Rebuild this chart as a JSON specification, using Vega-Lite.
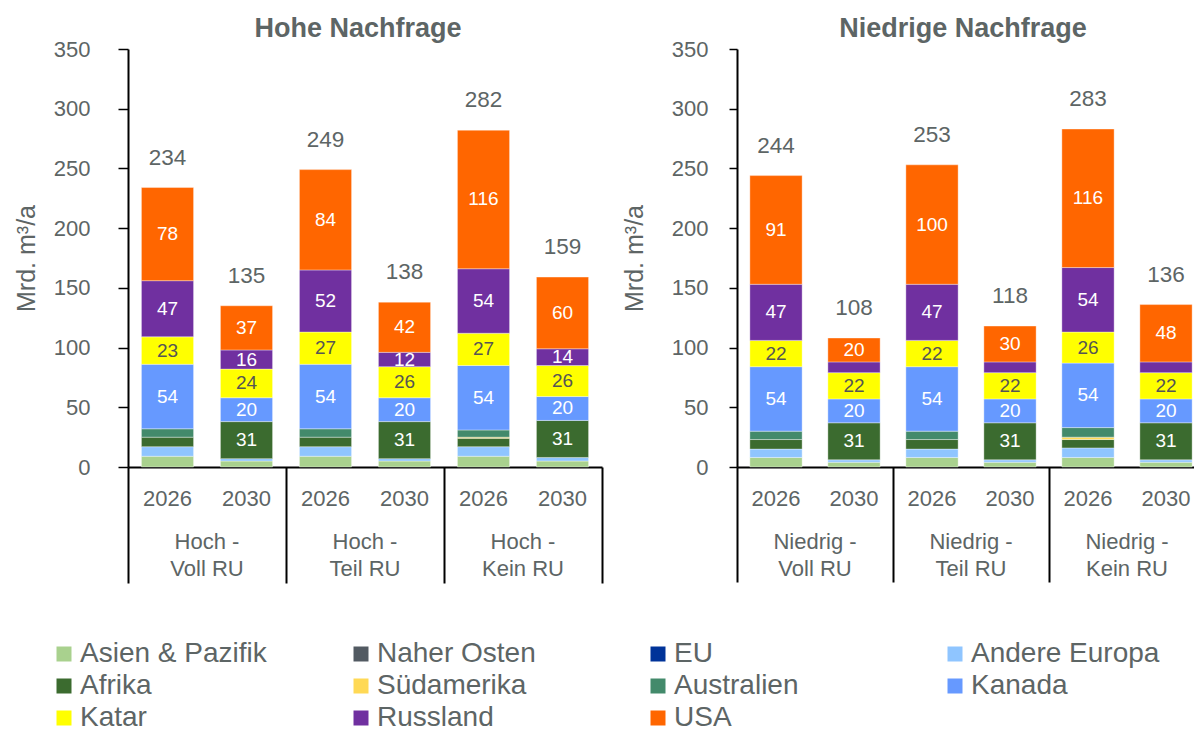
{
  "$schema": "https://vega.github.io/schema/vega-lite/v6.json",
  "padding": {"left": 14, "top": 15, "right": -12, "bottom": 0},
  "config": {
    "font": "Liberation Sans",
    "view": {"stroke": null},
    "axis": {"grid": false, "labelColor": "#5d6565", "titleColor": "#5d6565", "labelFont": "Liberation Sans", "titleFont": "Liberation Sans"},
    "title": {"font": "Liberation Sans", "fontSize": 27, "fontWeight": "bold", "color": "#5d6565", "anchor": "middle", "frame": "group"}
  },
  "datasets": {
    "seg": [
      {"panel": "H", "k": "Hoch -|Voll RU|2026", "region": "Asien & Pazifik", "v": 9},
      {"panel": "H", "k": "Hoch -|Voll RU|2026", "region": "Andere Europa", "v": 8},
      {"panel": "H", "k": "Hoch -|Voll RU|2026", "region": "Afrika", "v": 8},
      {"panel": "H", "k": "Hoch -|Voll RU|2026", "region": "Australien", "v": 7},
      {"panel": "H", "k": "Hoch -|Voll RU|2026", "region": "Kanada", "v": 54},
      {"panel": "H", "k": "Hoch -|Voll RU|2026", "region": "Katar", "v": 23},
      {"panel": "H", "k": "Hoch -|Voll RU|2026", "region": "Russland", "v": 47},
      {"panel": "H", "k": "Hoch -|Voll RU|2026", "region": "USA", "v": 78},
      {"panel": "H", "k": "Hoch -|Voll RU|2030", "region": "Asien & Pazifik", "v": 5},
      {"panel": "H", "k": "Hoch -|Voll RU|2030", "region": "Andere Europa", "v": 2},
      {"panel": "H", "k": "Hoch -|Voll RU|2030", "region": "Afrika", "v": 31},
      {"panel": "H", "k": "Hoch -|Voll RU|2030", "region": "Kanada", "v": 20},
      {"panel": "H", "k": "Hoch -|Voll RU|2030", "region": "Katar", "v": 24},
      {"panel": "H", "k": "Hoch -|Voll RU|2030", "region": "Russland", "v": 16},
      {"panel": "H", "k": "Hoch -|Voll RU|2030", "region": "USA", "v": 37},
      {"panel": "H", "k": "Hoch -|Teil RU|2026", "region": "Asien & Pazifik", "v": 9},
      {"panel": "H", "k": "Hoch -|Teil RU|2026", "region": "Andere Europa", "v": 8},
      {"panel": "H", "k": "Hoch -|Teil RU|2026", "region": "Afrika", "v": 8},
      {"panel": "H", "k": "Hoch -|Teil RU|2026", "region": "Australien", "v": 7},
      {"panel": "H", "k": "Hoch -|Teil RU|2026", "region": "Kanada", "v": 54},
      {"panel": "H", "k": "Hoch -|Teil RU|2026", "region": "Katar", "v": 27},
      {"panel": "H", "k": "Hoch -|Teil RU|2026", "region": "Russland", "v": 52},
      {"panel": "H", "k": "Hoch -|Teil RU|2026", "region": "USA", "v": 84},
      {"panel": "H", "k": "Hoch -|Teil RU|2030", "region": "Asien & Pazifik", "v": 5},
      {"panel": "H", "k": "Hoch -|Teil RU|2030", "region": "Andere Europa", "v": 2},
      {"panel": "H", "k": "Hoch -|Teil RU|2030", "region": "Afrika", "v": 31},
      {"panel": "H", "k": "Hoch -|Teil RU|2030", "region": "Kanada", "v": 20},
      {"panel": "H", "k": "Hoch -|Teil RU|2030", "region": "Katar", "v": 26},
      {"panel": "H", "k": "Hoch -|Teil RU|2030", "region": "Russland", "v": 12},
      {"panel": "H", "k": "Hoch -|Teil RU|2030", "region": "USA", "v": 42},
      {"panel": "H", "k": "Hoch -|Kein RU|2026", "region": "Asien & Pazifik", "v": 9},
      {"panel": "H", "k": "Hoch -|Kein RU|2026", "region": "Andere Europa", "v": 8},
      {"panel": "H", "k": "Hoch -|Kein RU|2026", "region": "Afrika", "v": 7},
      {"panel": "H", "k": "Hoch -|Kein RU|2026", "region": "Südamerika", "v": 1},
      {"panel": "H", "k": "Hoch -|Kein RU|2026", "region": "Australien", "v": 6},
      {"panel": "H", "k": "Hoch -|Kein RU|2026", "region": "Kanada", "v": 54},
      {"panel": "H", "k": "Hoch -|Kein RU|2026", "region": "Katar", "v": 27},
      {"panel": "H", "k": "Hoch -|Kein RU|2026", "region": "Russland", "v": 54},
      {"panel": "H", "k": "Hoch -|Kein RU|2026", "region": "USA", "v": 116},
      {"panel": "H", "k": "Hoch -|Kein RU|2030", "region": "Asien & Pazifik", "v": 5},
      {"panel": "H", "k": "Hoch -|Kein RU|2030", "region": "Andere Europa", "v": 3},
      {"panel": "H", "k": "Hoch -|Kein RU|2030", "region": "Afrika", "v": 31},
      {"panel": "H", "k": "Hoch -|Kein RU|2030", "region": "Kanada", "v": 20},
      {"panel": "H", "k": "Hoch -|Kein RU|2030", "region": "Katar", "v": 26},
      {"panel": "H", "k": "Hoch -|Kein RU|2030", "region": "Russland", "v": 14},
      {"panel": "H", "k": "Hoch -|Kein RU|2030", "region": "USA", "v": 60},
      {"panel": "N", "k": "Niedrig -|Voll RU|2026", "region": "Asien & Pazifik", "v": 8},
      {"panel": "N", "k": "Niedrig -|Voll RU|2026", "region": "Andere Europa", "v": 7},
      {"panel": "N", "k": "Niedrig -|Voll RU|2026", "region": "Afrika", "v": 8},
      {"panel": "N", "k": "Niedrig -|Voll RU|2026", "region": "Australien", "v": 7},
      {"panel": "N", "k": "Niedrig -|Voll RU|2026", "region": "Kanada", "v": 54},
      {"panel": "N", "k": "Niedrig -|Voll RU|2026", "region": "Katar", "v": 22},
      {"panel": "N", "k": "Niedrig -|Voll RU|2026", "region": "Russland", "v": 47},
      {"panel": "N", "k": "Niedrig -|Voll RU|2026", "region": "USA", "v": 91},
      {"panel": "N", "k": "Niedrig -|Voll RU|2030", "region": "Asien & Pazifik", "v": 4},
      {"panel": "N", "k": "Niedrig -|Voll RU|2030", "region": "Andere Europa", "v": 2},
      {"panel": "N", "k": "Niedrig -|Voll RU|2030", "region": "Afrika", "v": 31},
      {"panel": "N", "k": "Niedrig -|Voll RU|2030", "region": "Kanada", "v": 20},
      {"panel": "N", "k": "Niedrig -|Voll RU|2030", "region": "Katar", "v": 22},
      {"panel": "N", "k": "Niedrig -|Voll RU|2030", "region": "Russland", "v": 9},
      {"panel": "N", "k": "Niedrig -|Voll RU|2030", "region": "USA", "v": 20},
      {"panel": "N", "k": "Niedrig -|Teil RU|2026", "region": "Asien & Pazifik", "v": 8},
      {"panel": "N", "k": "Niedrig -|Teil RU|2026", "region": "Andere Europa", "v": 7},
      {"panel": "N", "k": "Niedrig -|Teil RU|2026", "region": "Afrika", "v": 8},
      {"panel": "N", "k": "Niedrig -|Teil RU|2026", "region": "Australien", "v": 7},
      {"panel": "N", "k": "Niedrig -|Teil RU|2026", "region": "Kanada", "v": 54},
      {"panel": "N", "k": "Niedrig -|Teil RU|2026", "region": "Katar", "v": 22},
      {"panel": "N", "k": "Niedrig -|Teil RU|2026", "region": "Russland", "v": 47},
      {"panel": "N", "k": "Niedrig -|Teil RU|2026", "region": "USA", "v": 100},
      {"panel": "N", "k": "Niedrig -|Teil RU|2030", "region": "Asien & Pazifik", "v": 4},
      {"panel": "N", "k": "Niedrig -|Teil RU|2030", "region": "Andere Europa", "v": 2},
      {"panel": "N", "k": "Niedrig -|Teil RU|2030", "region": "Afrika", "v": 31},
      {"panel": "N", "k": "Niedrig -|Teil RU|2030", "region": "Kanada", "v": 20},
      {"panel": "N", "k": "Niedrig -|Teil RU|2030", "region": "Katar", "v": 22},
      {"panel": "N", "k": "Niedrig -|Teil RU|2030", "region": "Russland", "v": 9},
      {"panel": "N", "k": "Niedrig -|Teil RU|2030", "region": "USA", "v": 30},
      {"panel": "N", "k": "Niedrig -|Kein RU|2026", "region": "Asien & Pazifik", "v": 8},
      {"panel": "N", "k": "Niedrig -|Kein RU|2026", "region": "Andere Europa", "v": 8},
      {"panel": "N", "k": "Niedrig -|Kein RU|2026", "region": "Afrika", "v": 7},
      {"panel": "N", "k": "Niedrig -|Kein RU|2026", "region": "Südamerika", "v": 2},
      {"panel": "N", "k": "Niedrig -|Kein RU|2026", "region": "Australien", "v": 8},
      {"panel": "N", "k": "Niedrig -|Kein RU|2026", "region": "Kanada", "v": 54},
      {"panel": "N", "k": "Niedrig -|Kein RU|2026", "region": "Katar", "v": 26},
      {"panel": "N", "k": "Niedrig -|Kein RU|2026", "region": "Russland", "v": 54},
      {"panel": "N", "k": "Niedrig -|Kein RU|2026", "region": "USA", "v": 116},
      {"panel": "N", "k": "Niedrig -|Kein RU|2030", "region": "Asien & Pazifik", "v": 4},
      {"panel": "N", "k": "Niedrig -|Kein RU|2030", "region": "Andere Europa", "v": 2},
      {"panel": "N", "k": "Niedrig -|Kein RU|2030", "region": "Afrika", "v": 31},
      {"panel": "N", "k": "Niedrig -|Kein RU|2030", "region": "Kanada", "v": 20},
      {"panel": "N", "k": "Niedrig -|Kein RU|2030", "region": "Katar", "v": 22},
      {"panel": "N", "k": "Niedrig -|Kein RU|2030", "region": "Russland", "v": 9},
      {"panel": "N", "k": "Niedrig -|Kein RU|2030", "region": "USA", "v": 48}
    ],
    "tot": [
      {"panel": "H", "k": "Hoch -|Voll RU|2026", "total": 234},
      {"panel": "H", "k": "Hoch -|Voll RU|2030", "total": 135},
      {"panel": "H", "k": "Hoch -|Teil RU|2026", "total": 249},
      {"panel": "H", "k": "Hoch -|Teil RU|2030", "total": 138},
      {"panel": "H", "k": "Hoch -|Kein RU|2026", "total": 282},
      {"panel": "H", "k": "Hoch -|Kein RU|2030", "total": 159},
      {"panel": "N", "k": "Niedrig -|Voll RU|2026", "total": 244},
      {"panel": "N", "k": "Niedrig -|Voll RU|2030", "total": 108},
      {"panel": "N", "k": "Niedrig -|Teil RU|2026", "total": 253},
      {"panel": "N", "k": "Niedrig -|Teil RU|2030", "total": 118},
      {"panel": "N", "k": "Niedrig -|Kein RU|2026", "total": 283},
      {"panel": "N", "k": "Niedrig -|Kein RU|2030", "total": 136}
    ]
  },
  "spacing": 19,
  "hconcat": [
    {
      "title": {"text": "Hohe Nachfrage", "offset": -5, "dx": -7},
      "width": 474,
      "height": 418,
      "resolve": {"axis": {"x": "independent", "y": "independent"}},
      "layer": [
        {
          "data": {"name": "seg"},
          "transform": [
            {"filter": "datum.panel === 'H'"},
            {"calculate": "indexof(['Asien & Pazifik','Naher Osten','EU','Andere Europa','Afrika','Südamerika','Australien','Kanada','Katar','Russland','USA'], datum.region)", "as": "o"},
            {"stack": "v", "groupby": ["k"], "sort": [{"field": "o", "order": "ascending"}], "as": ["y0", "y1"]}
          ],
          "mark": {"type": "bar", "width": {"band": 0.66}, "stroke": "white", "strokeWidth": 0.6, "strokeOpacity": 0.6},
          "encoding": {
            "x": {"field": "k", "type": "nominal", "scale": {"domain": ["Hoch -|Voll RU|2026", "Hoch -|Voll RU|2030", "Hoch -|Teil RU|2026", "Hoch -|Teil RU|2030", "Hoch -|Kein RU|2026", "Hoch -|Kein RU|2030"], "paddingInner": 0, "paddingOuter": 0},
                  "axis": {"orient": "bottom", "title": null, "labelExpr": "slice(datum.value, -4)", "labelAngle": 0, "ticks": false, "domain": true, "domainColor": "black", "domainWidth": 2, "labelPadding": 21, "labelFontSize": 22}},
            "y": {"field": "y0", "type": "quantitative", "scale": {"domain": [0, 350], "nice": false},
                  "axis": {"orient": "left", "title": "Mrd. m³/a", "values": [0, 50, 100, 150, 200, 250, 300, 350], "domainColor": "black", "domainWidth": 2, "tickColor": "black", "tickWidth": 1.5, "tickSize": 10, "labelPadding": 28, "labelFontSize": 22, "titleFontSize": 25, "titleFontWeight": "normal", "titlePadding": 14}},
            "y2": {"field": "y1"},
            "color": {"field": "region", "type": "nominal",
                      "scale": {"domain": ["Asien & Pazifik", "Afrika", "Katar", "Naher Osten", "Südamerika", "Russland", "EU", "Australien", "USA", "Andere Europa", "Kanada"],
                                "range": ["#A9D18E", "#3B6B2F", "#FFFF00", "#525A62", "#FFD955", "#7030A0", "#003399", "#438A6B", "#FF6600", "#8FC5FF", "#6699FF"]},
                      "legend": {"orient": "none", "legendX": -78, "legendY": 591, "title": null, "columns": 4, "gridAlign": "all", "columnPadding": 78, "rowPadding": 4, "symbolType": "square", "symbolSize": 225, "symbolStrokeWidth": 0, "labelFontSize": 28, "labelColor": "#5d6565", "labelOffset": 2, "labelLimit": 400}}
          }
        },
        {
          "data": {"name": "seg"},
          "transform": [
            {"filter": "datum.panel === 'H'"},
            {"calculate": "indexof(['Asien & Pazifik','Naher Osten','EU','Andere Europa','Afrika','Südamerika','Australien','Kanada','Katar','Russland','USA'], datum.region)", "as": "o"},
            {"stack": "v", "groupby": ["k"], "sort": [{"field": "o", "order": "ascending"}], "as": ["y0", "y1"]},
            {"calculate": "(datum.y0 + datum.y1) / 2", "as": "ym"},
            {"filter": "datum.v >= 10 && datum.region !== 'Katar'"}
          ],
          "mark": {"type": "text", "color": "white", "fontSize": 19, "baseline": "middle"},
          "encoding": {
            "x": {"field": "k", "type": "nominal", "scale": {"domain": ["Hoch -|Voll RU|2026", "Hoch -|Voll RU|2030", "Hoch -|Teil RU|2026", "Hoch -|Teil RU|2030", "Hoch -|Kein RU|2026", "Hoch -|Kein RU|2030"], "paddingInner": 0, "paddingOuter": 0},
                  "axis": {"orient": "bottom", "title": null, "values": ["Hoch -|Voll RU|2026", "Hoch -|Teil RU|2026", "Hoch -|Kein RU|2026"], "labelOffset": 39.5, "ticks": false, "domain": false, "labelAngle": 0, "labelExpr": "[split(datum.value, '|')[0], split(datum.value, '|')[1]]", "labelPadding": 64, "labelLineHeight": 27, "labelFontSize": 22}},
            "y": {"field": "ym", "type": "quantitative", "scale": {"domain": [0, 350], "nice": false}, "axis": null},
            "text": {"field": "v", "type": "quantitative"}
          }
        },
        {
          "data": {"name": "seg"},
          "transform": [
            {"filter": "datum.panel === 'H'"},
            {"calculate": "indexof(['Asien & Pazifik','Naher Osten','EU','Andere Europa','Afrika','Südamerika','Australien','Kanada','Katar','Russland','USA'], datum.region)", "as": "o"},
            {"stack": "v", "groupby": ["k"], "sort": [{"field": "o", "order": "ascending"}], "as": ["y0", "y1"]},
            {"calculate": "(datum.y0 + datum.y1) / 2", "as": "ym"},
            {"filter": "datum.region === 'Katar'"}
          ],
          "mark": {"type": "text", "color": "#555555", "fontSize": 19, "baseline": "middle"},
          "encoding": {
            "x": {"field": "k", "type": "nominal", "scale": {"domain": ["Hoch -|Voll RU|2026", "Hoch -|Voll RU|2030", "Hoch -|Teil RU|2026", "Hoch -|Teil RU|2030", "Hoch -|Kein RU|2026", "Hoch -|Kein RU|2030"], "paddingInner": 0, "paddingOuter": 0},
                  "axis": {"orient": "bottom", "title": null, "values": ["Hoch -|Voll RU|2026", "Hoch -|Teil RU|2026", "Hoch -|Kein RU|2026"], "bandPosition": 0, "labels": false, "domain": false, "ticks": true, "tickSize": 116, "tickColor": "black", "tickWidth": 2}},
            "y": {"field": "ym", "type": "quantitative", "scale": {"domain": [0, 350], "nice": false}, "axis": null},
            "text": {"field": "v", "type": "quantitative"}
          }
        },
        {
          "data": {"name": "tot"},
          "transform": [{"filter": "datum.panel === 'H'"}],
          "mark": {"type": "text", "color": "#5d6565", "fontSize": 22.5, "baseline": "alphabetic", "dy": -23},
          "encoding": {
            "x": {"field": "k", "type": "nominal", "scale": {"domain": ["Hoch -|Voll RU|2026", "Hoch -|Voll RU|2030", "Hoch -|Teil RU|2026", "Hoch -|Teil RU|2030", "Hoch -|Kein RU|2026", "Hoch -|Kein RU|2030"], "paddingInner": 0, "paddingOuter": 0},
                  "axis": {"orient": "bottom", "title": null, "values": ["Hoch -|Kein RU|2030"], "bandPosition": 1, "labels": false, "domain": false, "ticks": true, "tickSize": 116, "tickColor": "black", "tickWidth": 2}},
            "y": {"field": "total", "type": "quantitative", "scale": {"domain": [0, 350], "nice": false}, "axis": null},
            "text": {"field": "total", "type": "quantitative"}
          }
        }
      ]
    },
    {
      "title": {"text": "Niedrige Nachfrage", "offset": -5, "dx": -8},
      "width": 468,
      "height": 418,
      "resolve": {"axis": {"x": "independent", "y": "independent"}},
      "layer": [
        {
          "data": {"name": "seg"},
          "transform": [
            {"filter": "datum.panel === 'N'"},
            {"calculate": "indexof(['Asien & Pazifik','Naher Osten','EU','Andere Europa','Afrika','Südamerika','Australien','Kanada','Katar','Russland','USA'], datum.region)", "as": "o"},
            {"stack": "v", "groupby": ["k"], "sort": [{"field": "o", "order": "ascending"}], "as": ["y0", "y1"]}
          ],
          "mark": {"type": "bar", "width": {"band": 0.67}, "stroke": "white", "strokeWidth": 0.6, "strokeOpacity": 0.6},
          "encoding": {
            "x": {"field": "k", "type": "nominal", "scale": {"domain": ["Niedrig -|Voll RU|2026", "Niedrig -|Voll RU|2030", "Niedrig -|Teil RU|2026", "Niedrig -|Teil RU|2030", "Niedrig -|Kein RU|2026", "Niedrig -|Kein RU|2030"], "paddingInner": 0, "paddingOuter": 0},
                  "axis": {"orient": "bottom", "title": null, "labelExpr": "slice(datum.value, -4)", "labelAngle": 0, "ticks": false, "domain": true, "domainColor": "black", "domainWidth": 2, "labelPadding": 21, "labelFontSize": 22}},
            "y": {"field": "y0", "type": "quantitative", "scale": {"domain": [0, 350], "nice": false},
                  "axis": {"orient": "left", "title": "Mrd. m³/a", "values": [0, 50, 100, 150, 200, 250, 300, 350], "domainColor": "black", "domainWidth": 2, "tickColor": "black", "tickWidth": 1.5, "tickSize": 8, "labelPadding": 21, "labelFontSize": 22, "titleFontSize": 25, "titleFontWeight": "normal", "titlePadding": 24}},
            "y2": {"field": "y1"},
            "color": {"field": "region", "type": "nominal",
                      "scale": {"domain": ["Asien & Pazifik", "Afrika", "Katar", "Naher Osten", "Südamerika", "Russland", "EU", "Australien", "USA", "Andere Europa", "Kanada"],
                                "range": ["#A9D18E", "#3B6B2F", "#FFFF00", "#525A62", "#FFD955", "#7030A0", "#003399", "#438A6B", "#FF6600", "#8FC5FF", "#6699FF"]},
                      "legend": {"orient": "none", "legendX": -78, "legendY": 591, "title": null, "columns": 4, "gridAlign": "all", "columnPadding": 78, "rowPadding": 4, "symbolType": "square", "symbolSize": 225, "symbolStrokeWidth": 0, "labelFontSize": 28, "labelColor": "#5d6565", "labelOffset": 2, "labelLimit": 400}}
          }
        },
        {
          "data": {"name": "seg"},
          "transform": [
            {"filter": "datum.panel === 'N'"},
            {"calculate": "indexof(['Asien & Pazifik','Naher Osten','EU','Andere Europa','Afrika','Südamerika','Australien','Kanada','Katar','Russland','USA'], datum.region)", "as": "o"},
            {"stack": "v", "groupby": ["k"], "sort": [{"field": "o", "order": "ascending"}], "as": ["y0", "y1"]},
            {"calculate": "(datum.y0 + datum.y1) / 2", "as": "ym"},
            {"filter": "datum.v >= 10 && datum.region !== 'Katar'"}
          ],
          "mark": {"type": "text", "color": "white", "fontSize": 19, "baseline": "middle"},
          "encoding": {
            "x": {"field": "k", "type": "nominal", "scale": {"domain": ["Niedrig -|Voll RU|2026", "Niedrig -|Voll RU|2030", "Niedrig -|Teil RU|2026", "Niedrig -|Teil RU|2030", "Niedrig -|Kein RU|2026", "Niedrig -|Kein RU|2030"], "paddingInner": 0, "paddingOuter": 0},
                  "axis": {"orient": "bottom", "title": null, "values": ["Niedrig -|Voll RU|2026", "Niedrig -|Teil RU|2026", "Niedrig -|Kein RU|2026"], "labelOffset": 39, "ticks": false, "domain": false, "labelAngle": 0, "labelExpr": "[split(datum.value, '|')[0], split(datum.value, '|')[1]]", "labelPadding": 64, "labelLineHeight": 27, "labelFontSize": 22}},
            "y": {"field": "ym", "type": "quantitative", "scale": {"domain": [0, 350], "nice": false}, "axis": null},
            "text": {"field": "v", "type": "quantitative"}
          }
        },
        {
          "data": {"name": "seg"},
          "transform": [
            {"filter": "datum.panel === 'N'"},
            {"calculate": "indexof(['Asien & Pazifik','Naher Osten','EU','Andere Europa','Afrika','Südamerika','Australien','Kanada','Katar','Russland','USA'], datum.region)", "as": "o"},
            {"stack": "v", "groupby": ["k"], "sort": [{"field": "o", "order": "ascending"}], "as": ["y0", "y1"]},
            {"calculate": "(datum.y0 + datum.y1) / 2", "as": "ym"},
            {"filter": "datum.region === 'Katar'"}
          ],
          "mark": {"type": "text", "color": "#555555", "fontSize": 19, "baseline": "middle"},
          "encoding": {
            "x": {"field": "k", "type": "nominal", "scale": {"domain": ["Niedrig -|Voll RU|2026", "Niedrig -|Voll RU|2030", "Niedrig -|Teil RU|2026", "Niedrig -|Teil RU|2030", "Niedrig -|Kein RU|2026", "Niedrig -|Kein RU|2030"], "paddingInner": 0, "paddingOuter": 0},
                  "axis": {"orient": "bottom", "title": null, "values": ["Niedrig -|Voll RU|2026", "Niedrig -|Teil RU|2026", "Niedrig -|Kein RU|2026"], "bandPosition": 0, "labels": false, "domain": false, "ticks": true, "tickSize": 115, "tickColor": "black", "tickWidth": 2}},
            "y": {"field": "ym", "type": "quantitative", "scale": {"domain": [0, 350], "nice": false}, "axis": null},
            "text": {"field": "v", "type": "quantitative"}
          }
        },
        {
          "data": {"name": "tot"},
          "transform": [{"filter": "datum.panel === 'N'"}],
          "mark": {"type": "text", "color": "#5d6565", "fontSize": 22.5, "baseline": "alphabetic", "dy": -23},
          "encoding": {
            "x": {"field": "k", "type": "nominal", "scale": {"domain": ["Niedrig -|Voll RU|2026", "Niedrig -|Voll RU|2030", "Niedrig -|Teil RU|2026", "Niedrig -|Teil RU|2030", "Niedrig -|Kein RU|2026", "Niedrig -|Kein RU|2030"], "paddingInner": 0, "paddingOuter": 0},
                  "axis": {"orient": "bottom", "title": null, "values": ["Niedrig -|Kein RU|2030"], "bandPosition": 1, "labels": false, "domain": false, "ticks": true, "tickSize": 115, "tickColor": "black", "tickWidth": 2}},
            "y": {"field": "total", "type": "quantitative", "scale": {"domain": [0, 350], "nice": false}, "axis": null},
            "text": {"field": "total", "type": "quantitative"}
          }
        }
      ]
    }
  ]
}
